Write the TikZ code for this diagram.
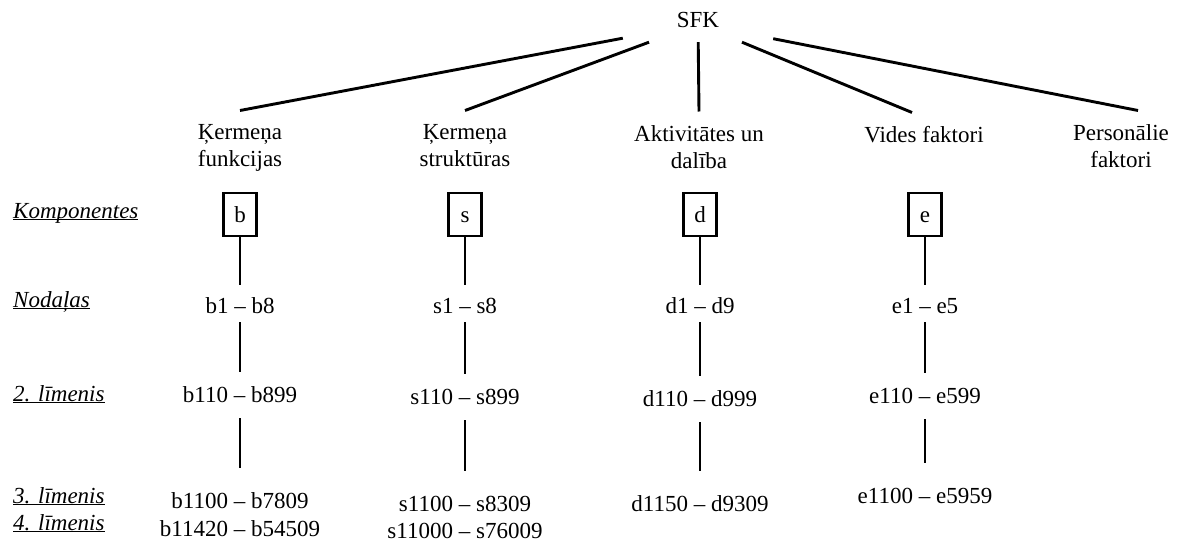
\documentclass[tikz,border=0pt]{standalone}
\usepackage{fontspec}
\setmainfont{Liberation Serif}
\usetikzlibrary{positioning}
\newcommand{\rowlabel}[1]{\underline{\smash{\textit{#1}}}}

\begin{document}
\begin{tikzpicture}[x=1pt,y=-1pt,
    every node/.style={font=\fontsize{23}{27}\selectfont, inner sep=0pt},
    cat/.style={align=center, anchor=north, inner ysep=14pt},
    comp/.style={draw, line width=2.6pt, minimum width=33pt, minimum height=43pt,
                 text height=15.7pt, text depth=0pt},
    code/.style={anchor=base, text height=16pt, text depth=5pt},
    lvl/.style={anchor=base west},
    link/.style={line width=2.9pt}]
  \useasboundingbox (0,0) rectangle (1180,543);

  \node[minimum width=150pt, minimum height=36pt, text height=15pt, text depth=7pt]
    (sfk) at (698,24) {SFK};

  % classification parts
  \node[cat] (kf) at (240,110.5) {Ķermeņa\\funkcijas};
  \node[cat] (ks) at (465,110.5) {Ķermeņa\\struktūras};
  \node[cat] (ad) at (699,111.5) {Aktivitātes un\\dalība};
  \node[cat] (vf) at (924,112.5) {Vides faktori};
  \node[cat] (pf) at (1121,110.5) {Personālie\\faktori};

  \draw[link] (sfk) -- (kf.north);
  \draw[link] (sfk) -- (ks.north);
  \draw[link] (sfk) -- (ad.north);
  \draw[link] (sfk) -- ([xshift=-12pt]vf.north);
  \draw[link] (sfk) -- ([xshift=17pt]pf.north);

  % row labels
  \node[lvl] (rk)  at (13,218) {\rowlabel{Komponentes}};
  \node[lvl] (rn)  at (13,307) {\rowlabel{Nodaļas}};
  \node[lvl] (r2)  at (13,401) {\rowlabel{2. līmenis}};
  \node[lvl] (r3)  at (13,503) {\rowlabel{3. līmenis}};
  \node[lvl] (r4)  at (13,530) {\rowlabel{4. līmenis}};

  % components
  \node[comp] (b) at (240,214.5) {b};
  \node[comp] (s) at (465,214.5) {s};
  \node[comp] (d) at (700,214.5) {d};
  \node[comp] (e) at (925,214.5) {e};

  \node[code] (b1) at (240,313) {b1 – b8};
  \node[code] (s1) at (465,313) {s1 – s8};
  \node[code] (d1) at (700,313) {d1 – d9};
  \node[code] (e1) at (925,313) {e1 – e5};

  \node[code] (b2) at (240,402) {b110 – b899};
  \node[code] (s2) at (465,404) {s110 – s899};
  \node[code] (d2) at (700,406) {d110 – d999};
  \node[code] (e2) at (925,403) {e110 – e599};

  \node[code] (b3) at (240,508) {b1100 – b7809};
  \node[code] (b4) at (240,536) {b11420 – b54509};
  \node[code] (s3) at (465,511) {s1100 – s8309};
  \node[code] (s4) at (465,538) {s11000 – s76009};
  \node[code] (d3) at (700,511) {d1150 – d9309};
  \node[code] (e3) at (925,503) {e1100 – e5959};

  \foreach \c in {b,s,d,e}{
    \draw[link, shorten >=12pt] (\c) -- (\c1);
    \draw[link, shorten <=4pt, shorten >=14pt] (\c1) -- (\c2);
    \draw[link, shorten <=11pt, shorten >=24pt] (\c2) -- (\c3);
  }
\end{tikzpicture}
\end{document}
